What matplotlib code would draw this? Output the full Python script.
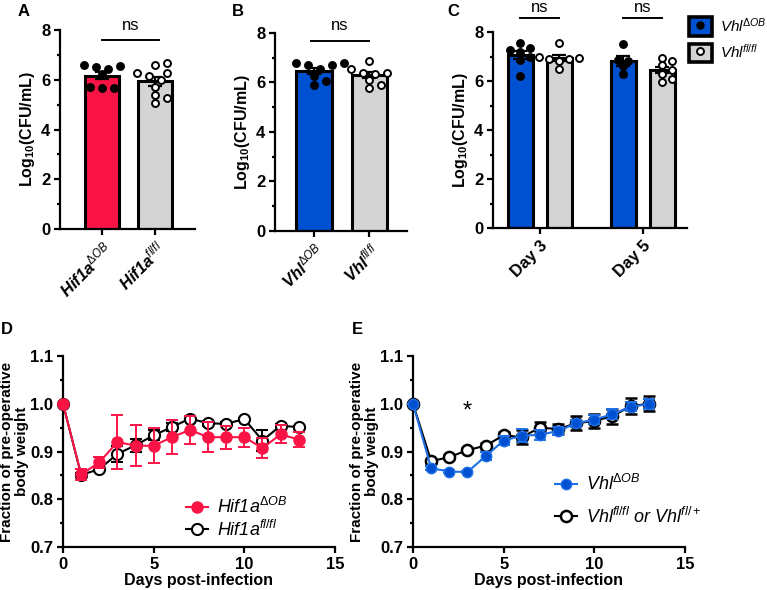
import matplotlib
matplotlib.use('Agg')
import matplotlib.pyplot as plt
import numpy as np
from matplotlib.lines import Line2D
from matplotlib.patches import Patch
from matplotlib.ticker import MultipleLocator

plt.rcParams['font.family'] = ['Liberation Sans', 'DejaVu Sans']
plt.rcParams['mathtext.fontset'] = 'custom'
plt.rcParams['mathtext.rm'] = 'Liberation Sans'
plt.rcParams['mathtext.it'] = 'Liberation Sans:italic'
plt.rcParams['mathtext.bf'] = 'Liberation Sans:bold'

RED = '#FA1446'
BLUE = '#0050D2'
LBLUE = '#1F6FE6'
GREY = '#D4D4D4'

# ---- data: bacterial burden (log10 CFU/mL) ----
hif_ko = [6.5, 5.65, 6.55, 5.7, 6.25, 6.45, 5.65, 6.6]
hif_fl = [6.15, 5.08, 6.59, 6.26, 5.99, 5.7, 5.39, 6.66, 6.28, 5.25]
vhl_ko = [6.8, 6.72, 6.72, 6.78, 6.55, 6.25, 6.05, 5.88]
vhl_fl = [6.85, 6.55, 6.4, 6.35, 6.4, 5.78, 5.9, 6.1]
vhl_ko_d3 = [7.55, 7.25, 7.35, 7.2, 7.0, 6.85, 6.2]
vhl_fl_d3 = [7.55, 7.0, 6.9, 6.8, 6.88, 6.95, 6.5]
vhl_ko_d5 = [7.5, 6.85, 6.3, 6.6, 6.8]
vhl_fl_d5 = [6.8, 6.92, 6.65, 5.97, 6.1, 6.45, 6.3]
days_c = ['Day 3', 'Day 5']

# ---- data: body weight ----
days = np.arange(14)
d_ko = [1.0, 0.852, 0.877, 0.92, 0.912, 0.912, 0.930, 0.945, 0.930, 0.930, 0.930, 0.907, 0.936, 0.925]
d_ko_err = [0, 0.011, 0.012, 0.056, 0.043, 0.037, 0.036, 0.029, 0.031, 0.024, 0.02, 0.021, 0.019, 0.015]
d_fl = [1.0, 0.851, 0.863, 0.895, 0.913, 0.934, 0.951, 0.969, 0.959, 0.958, 0.968, 0.923, 0.954, 0.951]
d_fl_err = [0, 0.005, 0.004, 0.017, 0.013, 0.01, 0.009, 0.006, 0.005, 0.003, 0.003, 0.022, 0.004, 0.003]
e_ko = [1.0, 0.865, 0.858, 0.857, 0.890, 0.923, 0.933, 0.935, 0.943, 0.959, 0.967, 0.978, 0.994, 0.999]
e_ko_err = [0, 0.004, 0.003, 0.003, 0.008, 0.009, 0.014, 0.01, 0.009, 0.008, 0.01, 0.01, 0.01, 0.01]
e_fl = [1.0, 0.880, 0.888, 0.903, 0.912, 0.934, 0.930, 0.950, 0.947, 0.959, 0.964, 0.974, 0.995, 1.0]
e_fl_err = [0, 0.005, 0.004, 0.005, 0.006, 0.006, 0.014, 0.011, 0.01, 0.015, 0.014, 0.016, 0.017, 0.016]


def swarm(vals, pxx, pxy, d=7.5, step=6.0):
    # simple beeswarm in pixel space; pxx/pxy = pixels per data unit
    placed = []
    offs = np.zeros(len(vals))
    steps = [0.0]
    for k in range(1, 8):
        steps += [k * step, -k * step]
    for i in np.argsort(vals):
        v = vals[i] * pxy
        for s in steps:
            if all((s - px) ** 2 + (v - py) ** 2 >= d * d for px, py in placed):
                offs[i] = s / pxx
                placed.append((s, v))
                break
    return offs


def style_ax(ax, size=12):
    for s in ['top', 'right']:
        ax.spines[s].set_visible(False)
    for s in ['left', 'bottom']:
        ax.spines[s].set_linewidth(1.6)
    ax.tick_params(width=1.6, length=4.5, labelsize=size, pad=2.5)
    ax.tick_params(which='minor', width=1.6, length=2.5)
    for lab in ax.get_yticklabels():
        lab.set_fontweight('bold')


def bars(ax, x, groups, colors, filled, pxx, d=7.5, step=6.0):
    for xi, vals, c, f in zip(x, groups, colors, filled):
        vals = np.asarray(vals)
        m = vals.mean()
        se = vals.std(ddof=1) / np.sqrt(len(vals))
        ax.bar(xi, m, width=0.64, color=c, edgecolor='black', linewidth=2.2, zorder=2)
        ax.errorbar(xi, m, yerr=se, color='black', capsize=5, elinewidth=1.6, capthick=1.6, zorder=3)
        offs = swarm(vals, pxx, 24.8, d, step)
        ax.plot(xi + offs, vals, 'o', ms=5.0, mfc='black' if f else 'white',
                mec='black', mew=1.4, ls='', zorder=4, clip_on=False)
    ax.set_ylim(0, 8)
    ax.yaxis.set_major_locator(MultipleLocator(2))
    ax.yaxis.set_minor_locator(MultipleLocator(1))
    ax.set_ylabel('Log$_{\\mathbf{10}}$(CFU/mL)', fontsize=11.5, fontweight='bold', labelpad=3)


def ns(ax, x0, x1, yl, yt):
    ax.plot([x0, x1], [yl, yl], color='black', lw=1.4, clip_on=False)
    ax.text((x0 + x1) / 2, yt, 'ns', ha='center', va='center', fontsize=12, clip_on=False)


fig = plt.figure(figsize=(7.67, 5.9), dpi=100)
W, H = 767, 590


def axpx(l, r, t, b):
    return fig.add_axes([l / W, 1 - b / H, (r - l) / W, (b - t) / H])


# panel A
axA = axpx(60, 195, 30, 229)
bars(axA, [0, 1], [hif_ko, hif_fl], [RED, GREY], [True, False], 53)
axA.set_xlim(-0.8, 1.75)
axA.set_xticks([0, 1])
axA.set_xticklabels(['Hif1a$^{\\mathit{ΔOB}}$', 'Hif1a$^{\\mathit{fl/fl}}$'],
                    rotation=45, ha='right', rotation_mode='anchor',
                    fontweight='bold', fontstyle='italic')
ns(axA, 0, 1.07, 7.6, 8.2)
style_ax(axA)

# panel B
axB = axpx(275, 407, 33, 231)
bars(axB, [0, 1], [vhl_ko, vhl_fl], [BLUE, GREY], [True, False], 55.5)
axB.set_xlim(-0.7, 1.68)
axB.set_xticks([0, 1])
axB.set_xticklabels(['Vhl$^{\\mathit{ΔOB}}$', 'Vhl$^{\\mathit{fl/fl}}$'],
                    rotation=45, ha='right', rotation_mode='anchor',
                    fontweight='bold', fontstyle='italic')
ns(axB, -0.05, 1.0, 7.69, 8.3)
style_ax(axB)

# panel C
axC = axpx(493, 687, 32, 228)
g = np.array([0, 2.64])
bars(axC, [g[0] - 0.5, g[0] + 0.5, g[1] - 0.5, g[1] + 0.5],
     [vhl_ko_d3, vhl_fl_d3, vhl_ko_d5, vhl_fl_d5],
     [BLUE, GREY, BLUE, GREY], [True, False, True, False], 39, d=6.5, step=5.0)
axC.set_xlim(-1.2, 3.77)
axC.set_xticks(g)
axC.set_xticklabels(days_c, rotation=45, ha='right', rotation_mode='anchor', fontweight='bold')
for gi in g:
    ns(axC, gi - 0.5, gi + 0.5, 8.57, 9.0)
style_ax(axC)

hC = [(Patch(facecolor=BLUE, edgecolor='black', linewidth=2.6),
       Line2D([], [], marker='o', ls='', ms=5, mfc='black', mec='black')),
      (Patch(facecolor=GREY, edgecolor='black', linewidth=2.6),
       Line2D([], [], marker='o', ls='', ms=5, mfc='white', mec='black', mew=1.4))]
fig.legend(hC, ['Vhl$^{\\mathit{ΔOB}}$', 'Vhl$^{\\mathit{fl/fl}}$'], loc='upper left',
           bbox_to_anchor=(689 / W, 1 - 16 / H), frameon=False, borderpad=0,
           borderaxespad=0, handlelength=1.5, handleheight=1.45, labelspacing=0.5,
           handletextpad=0.5, prop={'style': 'italic', 'size': 11})


def weight_ax(ax):
    ax.set_xlim(0, 15)
    ax.set_ylim(0.7, 1.1)
    ax.xaxis.set_major_locator(MultipleLocator(5))
    ax.yaxis.set_major_locator(MultipleLocator(0.1))
    ax.yaxis.set_minor_locator(MultipleLocator(0.05))
    ax.yaxis.set_major_formatter(matplotlib.ticker.FormatStrFormatter('%.1f'))
    ax.set_xlabel('Days post-infection', fontsize=11.5, fontweight='bold', labelpad=1)
    ax.set_ylabel('Fraction of pre-operative\nbody weight', fontsize=11, fontweight='bold',
                  labelpad=1, linespacing=1.1)
    style_ax(ax)
    for lab in ax.get_xticklabels():
        lab.set_fontweight('bold')


# panel D
axD = axpx(63, 335, 356, 547)
axD.errorbar(days, d_fl, yerr=d_fl_err, color='black', marker='o', ms=8, mfc='white',
             mec='black', mew=1.5, lw=1.5, capsize=4, elinewidth=1.4, capthick=1.4,
             clip_on=False, zorder=3)
axD.errorbar(days, d_ko, yerr=d_ko_err, color=RED, marker='o', ms=8, mfc=RED, mec=RED,
             lw=1.5, capsize=4, elinewidth=1.4, capthick=1.4, clip_on=False, zorder=4)
weight_ax(axD)
hD = [Line2D([], [], color=RED, marker='o', ms=8, lw=1.5),
      Line2D([], [], color='black', marker='o', ms=8, mfc='white', mew=1.5, lw=1.5)]
axD.legend(hD, ['Hif1a$^{\\mathit{ΔOB}}$', 'Hif1a$^{\\mathit{fl/fl}}$'], loc='upper left',
           bbox_to_anchor=(0.42, 0.31), frameon=False, borderpad=0, handlelength=1.2,
           handletextpad=0.5, labelspacing=0.15, prop={'style': 'italic', 'size': 13})

# panel E
axE = axpx(413, 685, 356, 547)
axE.errorbar(days, e_fl, yerr=e_fl_err, color='black', marker='o', ms=8, mfc='white',
             mec='black', mew=1.8, lw=1.5, capsize=4, elinewidth=1.4, capthick=1.4,
             clip_on=False, zorder=3)
axE.errorbar(days, e_ko, yerr=e_ko_err, color=LBLUE, marker='o', ms=7.5, mfc=BLUE, mec=LBLUE,
             lw=1.5, capsize=4, elinewidth=1.4, capthick=1.4, clip_on=False, zorder=4)
axE.text(3, 0.983, '*', ha='center', va='center', fontsize=17)
weight_ax(axE)
hE = [Line2D([], [], color=LBLUE, marker='o', ms=7.5, mfc=BLUE, lw=1.5),
      Line2D([], [], color='black', marker='o', ms=8, mfc='white', mew=1.8, lw=1.5)]
axE.legend(hE, ['Vhl$^{\\mathit{ΔOB}}$', 'Vhl$^{\\mathit{fl/fl}}$ or Vhl$^{\\mathit{fl/+}}$'],
           loc='upper left', bbox_to_anchor=(0.49, 0.43), frameon=False, borderpad=0,
           handlelength=1.2, handletextpad=0.5, labelspacing=0.7,
           prop={'style': 'italic', 'size': 13})

# panel letters
for lab, x, y in [('A', 18, 12), ('B', 232, 12), ('C', 447, 12), ('D', 1, 330), ('E', 352, 330)]:
    fig.text(x / W, 1 - y / H, lab, fontsize=12, fontweight='bold', va='center', ha='left')

fig.savefig('out.png', dpi=100)
